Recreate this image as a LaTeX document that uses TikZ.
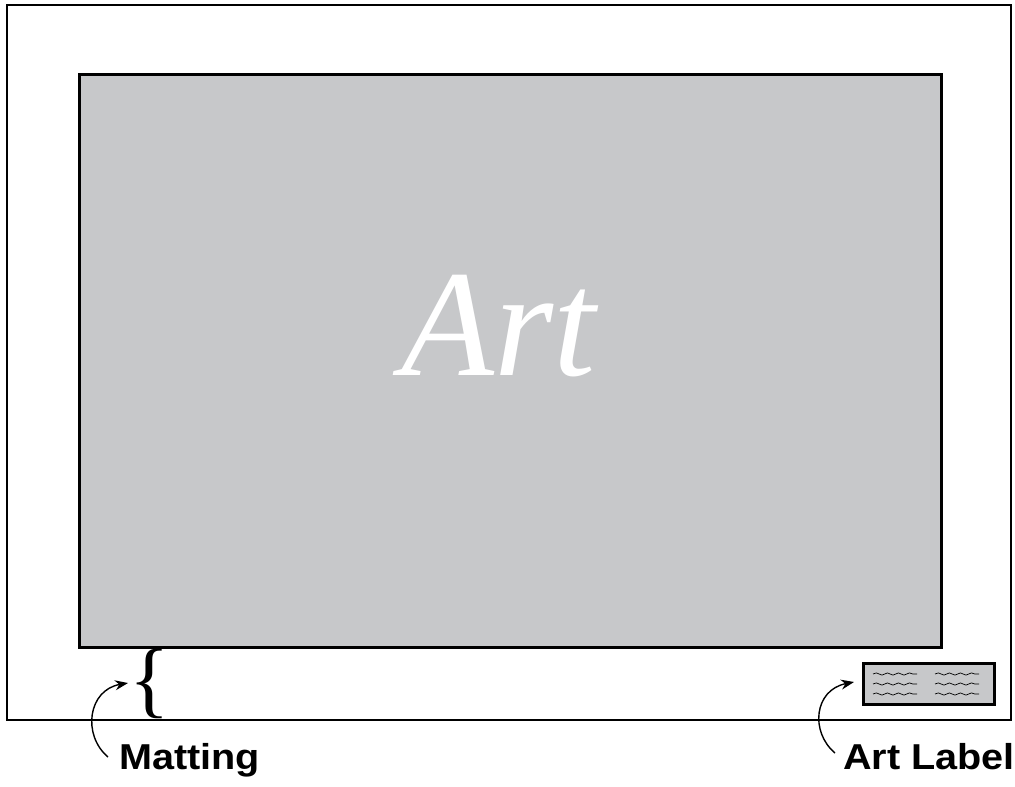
\documentclass[tikz,border=0pt]{standalone}
\usepackage{fontspec}
\setmainfont{Liberation Serif}
\newfontfamily\lblfont[FakeStretch=1.1]{Liberation Sans}
\usetikzlibrary{arrows.meta,decorations.pathmorphing}
\definecolor{artgray}{RGB}{199,200,202}
\tikzset{
  frameline/.style={draw=black,line width=2.6pt},
  wavy/.style={draw=black,line width=0.7pt,decorate,decoration={snake,segment length=11pt,amplitude=1.1pt}},
  pointer/.style={draw=black,line width=1.4pt,-{Stealth[length=13pt,width=10pt]}},
  lbltext/.style={font=\lblfont\bfseries\fontsize{36}{36}\selectfont,inner sep=0pt,anchor=base west},
}
\begin{document}
\begin{tikzpicture}[x=1pt,y=-1pt]
\useasboundingbox (0,0) rectangle (1015,787);
% outer frame
\draw[frameline] (7,5) rectangle (1011,720);
% art
\node[frameline,fill=artgray,minimum width=862pt,minimum height=573pt,inner sep=0pt,anchor=north west] (art) at (78,73) {};
\node[text=white,font=\itshape\fontsize{152}{152}\selectfont,inner sep=0pt] (arttext) at (499,326) {Art};
% label box
\node[frameline,fill=artgray,minimum width=131pt,minimum height=41pt,inner sep=0pt,anchor=north west] (lbox) at (862,662) {};
\foreach \yy in {674,684,694}{
  \draw[wavy] (873,\yy) -- (917,\yy);
  \draw[wavy] (935,\yy) -- (979,\yy);
}
% brace
\node[font=\fontsize{84}{84}\selectfont,inner sep=0pt] (brace) at (150,684) {\{};
% labels
\node[lbltext] (matting) at (119,769) {Matting};
\node[lbltext] (artlabel) at (843,769) {Art Label};
% arrows
\coordinate (m0) at (108,757);
\coordinate (m1) at (128,683);
\coordinate (a0) at (835,753);
\coordinate (a1) at (854,682);
\draw[pointer] (m0) .. controls (82,735) and (88,690) .. (m1);
\draw[pointer] (a0) .. controls (810,732) and (814,690) .. (a1);
\end{tikzpicture}
\end{document}
